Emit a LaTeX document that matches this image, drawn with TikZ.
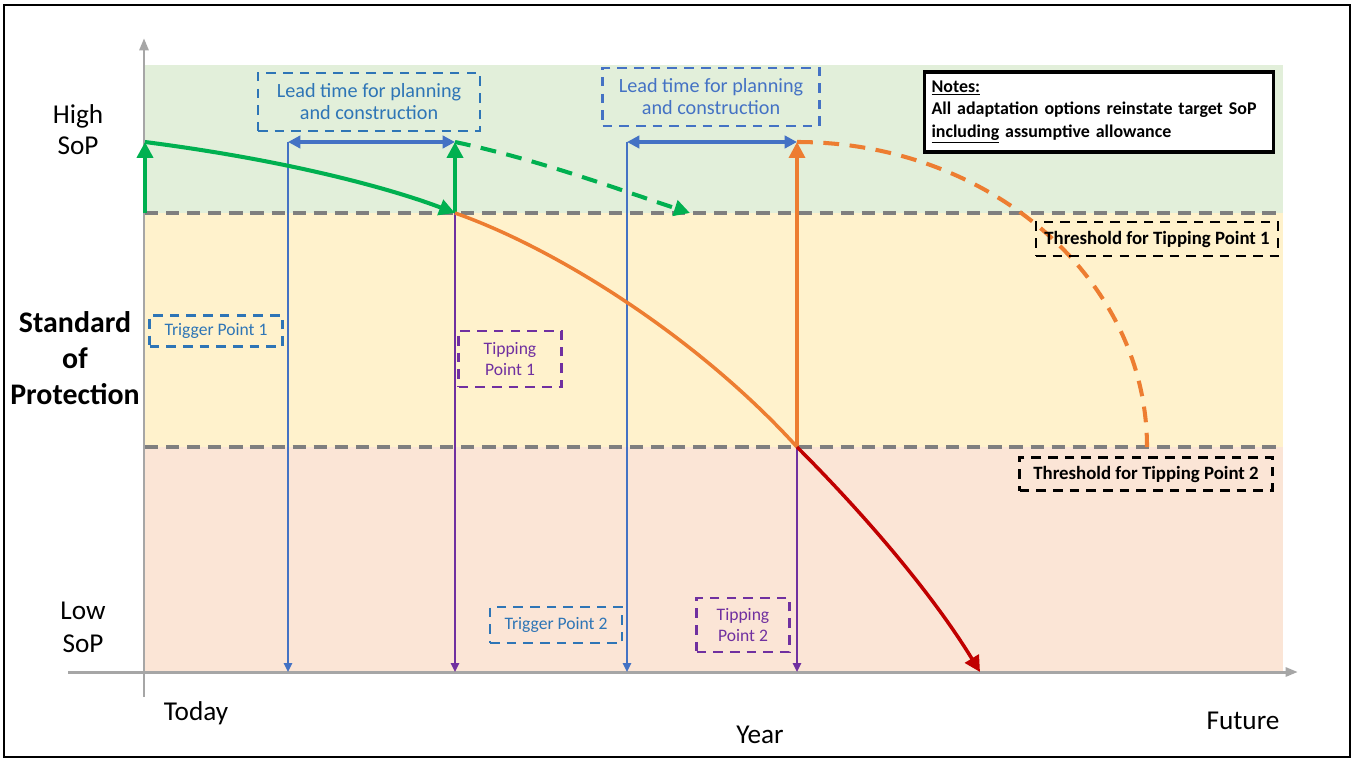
\documentclass[tikz,border=0pt]{standalone}
\usepackage{fontspec}
\setmainfont{Carlito}
\usetikzlibrary{arrows.meta}
\definecolor{bandgreen}{HTML}{E2EFDA}
\definecolor{bandyellow}{HTML}{FFF2CC}
\definecolor{bandred}{HTML}{FBE5D6}
\definecolor{threshgray}{HTML}{7F7F7F}
\definecolor{axisgray}{HTML}{A6A6A6}
\definecolor{sopgreen}{HTML}{00B050}
\definecolor{soporange}{HTML}{ED7D31}
\definecolor{sopred}{HTML}{C00000}
\definecolor{leadblue}{HTML}{4472C4}
\definecolor{boxblue}{HTML}{2E75B6}
\definecolor{tipviolet}{HTML}{7030A0}

\begin{document}
\begin{tikzpicture}[
    x=0.02cm, y=-0.02cm,
    dashbox/.style={draw, line width=1.6pt, dash pattern=on 5.5pt off 4pt, align=center, inner sep=1pt},
    bluebox/.style={dashbox, draw=boxblue, text=boxblue, font=\fontsize{10}{12}\selectfont},
    leadbox/.style={bluebox, font=\fontsize{11.5}{12.5}\selectfont},
    purplebox/.style={dashbox, draw=tipviolet, text=tipviolet, font=\fontsize{10}{12}\selectfont},
    blackbox/.style={dashbox, draw=black, font=\fontsize{10.7}{12}\selectfont\bfseries},
    axislabel/.style={font=\fontsize{15.5}{17.5}\selectfont, align=center},
    threshline/.style={draw=threshgray, line width=2.3pt, dash pattern=on 7.5pt off 4.5pt},
    axisline/.style={draw=axisgray, line width=1.7pt, -{Triangle[length=7pt,width=5pt]}},
    greenline/.style={draw=sopgreen, line width=2.3pt},
    blueline/.style={draw=leadblue, line width=1.3pt},
    purpleline/.style={draw=tipviolet, line width=1.3pt},
    orangeline/.style={draw=soporange, line width=2pt},
    redline/.style={draw=sopred, line width=2pt},
    bigtip/.style={-{Triangle[length=9pt,width=9pt]}},
    smalltip/.style={-{Triangle[length=5pt,width=4.5pt]}}
]
\useasboundingbox (0,0) rectangle (1354,760);
\draw[line width=1.2pt] (4,5) rectangle (1350,757);

% SoP bands
\fill[bandgreen] (145,65) rectangle (1283,213);
\fill[bandyellow] (145,213) rectangle (1283,447);
\fill[bandred] (145,447) rectangle (1283,672);

% Thresholds
\coordinate (thr1w) at (145,213);
\coordinate (thr1e) at (1283,213);
\coordinate (thr2w) at (145,447);
\coordinate (thr2e) at (1283,447);
\draw[threshline] (thr1w) -- (thr1e);
\draw[threshline] (thr2w) -- (thr2e);

% Axes
\coordinate (origin) at (144,697);
\coordinate (ytop) at (144,38);
\coordinate (xleft) at (68,672);
\coordinate (xright) at (1298,672);
\draw[axisline] (origin) -- (ytop);
\draw[axisline] (xleft) -- (xright);

% Key points
\coordinate (today) at (145,142);
\coordinate (today0) at (145,213);
\coordinate (trig1) at (288,142);
\coordinate (trig1b) at (288,672);
\coordinate (tip1) at (455,213);
\coordinate (tip1up) at (455,142);
\coordinate (tip1b) at (455,672);
\coordinate (greenend) at (690,213);
\coordinate (trig2) at (627,142);
\coordinate (trig2b) at (627,672);
\coordinate (tip2) at (797,447);
\coordinate (tip2up) at (797,142);
\coordinate (tip2b) at (797,672);
\coordinate (orangeend) at (1147,447);
\coordinate (redend) at (980,672);

% Lead time and trigger lines
\draw[blueline, smalltip] (trig1) -- (trig1b);
\draw[blueline, smalltip] (trig2) -- (trig2b);
\draw[purpleline, smalltip] (tip1) -- (tip1b);
\draw[purpleline, smalltip] (tip2) -- (tip2b);
\draw[blueline, line width=2pt, {Triangle[length=7pt,width=7pt]}-{Triangle[length=7pt,width=7pt]}] (trig1) -- (tip1up);
\draw[blueline, line width=2pt, {Triangle[length=7pt,width=7pt]}-{Triangle[length=7pt,width=7pt]}] (trig2) -- (tip2up);

% Decline and adaptation
\draw[greenline, bigtip] (today0) -- (today);
\draw[greenline, bigtip] (today) .. controls (300,162) and (400,192) .. (tip1);
\draw[greenline, bigtip] (tip1) -- (tip1up);
\draw[greenline, bigtip, dash pattern=on 9pt off 6pt] (tip1up) .. controls (540,160) and (620,190) .. (greenend);
\draw[orangeline] (tip1) .. controls (560,250) and (700,340) .. (tip2);
\draw[orangeline, bigtip] (tip2) -- (tip2up);
\draw[orangeline, line width=2.3pt, dash pattern=on 9pt off 6pt] (tip2up) .. controls (990,142) and (1147,279) .. (orangeend);
\draw[redline, bigtip] (tip2) .. controls (860,510) and (930,590) .. (redend);

% Boxes
\node[leadbox, minimum width=4.44cm, minimum height=1.16cm] (lead1) at (369,102) {Lead time for planning\\and construction};
\node[leadbox, draw=leadblue, text=leadblue, minimum width=4.34cm, minimum height=1.16cm] (lead2) at (711,97) {Lead time for planning\\and construction};
\node[draw, line width=1.8pt, fill=white, align=left, text width=6.7cm, minimum height=1.6cm, inner sep=4pt,
      font=\fontsize{10.2}{12.8}\selectfont\bfseries] (notes) at (1099,112)
      {\underline{Notes:}\\All adaptation options reinstate target SoP\\\underline{including} assumptive allowance};
\node[blackbox, minimum width=4.84cm, minimum height=0.68cm] (thrlbl1) at (1157,239) {Threshold for Tipping Point 1};
\node[blackbox, minimum width=5.06cm, minimum height=0.66cm] (thrlbl2) at (1146,474) {Threshold for Tipping Point 2};
\node[bluebox, minimum width=2.66cm, minimum height=0.62cm] (trglbl1) at (216,331) {Trigger Point 1};
\node[bluebox, minimum width=2.64cm, minimum height=0.72cm] (trglbl2) at (556,625) {Trigger Point 2};
\node[purplebox, minimum width=2.06cm, minimum height=1.12cm] (tiplbl1) at (510,359) {Tipping\\Point 1};
\node[purplebox, minimum width=1.86cm, minimum height=1.08cm] (tiplbl2) at (743,625) {Tipping\\Point 2};

% Axis labels
\node[axislabel] (high) at (78,130) {High\\SoP};
\node[axislabel, font=\fontsize{15.5}{18.7}\selectfont] (low) at (83,627) {Low\\SoP};
\node[axislabel, font=\fontsize{17}{20.5}\selectfont\bfseries] (sop) at (75,358) {Standard\\of\\Protection};
\node[axislabel] (todaylbl) at (196,713) {Today};
\node[axislabel] (year) at (760,735) {Year};
\node[axislabel] (future) at (1243,721) {Future};
\end{tikzpicture}
\end{document}
